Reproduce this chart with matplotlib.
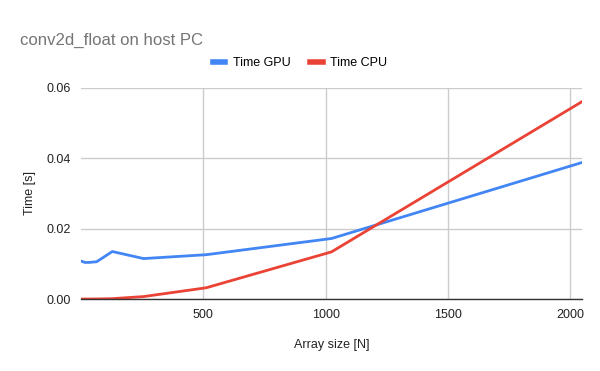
import matplotlib.pyplot as plt
from matplotlib.ticker import FormatStrFormatter

plt.rcParams['font.family'] = ['Liberation Sans', 'DejaVu Sans']

# dane
rozmiar = [4, 8, 16, 32, 64, 128, 256, 512, 1024, 2048]
czas_gpu = [0.0107, 0.0106, 0.0104, 0.0104, 0.0106, 0.0135, 0.0115, 0.0126, 0.0172, 0.0388]
czas_cpu = [0.0, 0.0, 0.0, 0.0, 0.00002, 0.0001, 0.0007, 0.0032, 0.0134, 0.0561]

fig = plt.figure(figsize=(6, 3.71), dpi=100)
ax = fig.add_axes([0.135, 0.194, 0.835, 0.569])

ax.plot(rozmiar, czas_gpu, color='#4285F4', lw=2, label='Time GPU')
ax.plot(rozmiar, czas_cpu, color='#EA4335', lw=2, label='Time CPU')

ax.set_xlim(0, 2048)
ax.set_ylim(0, 0.06)
ax.set_xticks([500, 1000, 1500, 2000])
ax.set_yticks([0, 0.02, 0.04, 0.06])
ax.yaxis.set_major_formatter(FormatStrFormatter('%.2f'))
ax.grid(True, color='#cccccc', lw=1)
ax.set_axisbelow(True)
ax.tick_params(length=0, labelsize=9, colors='#222222', pad=7)

for s in ['top', 'right', 'left']:
    ax.spines[s].set_visible(False)
ax.spines['bottom'].set_color('#333333')
ax.spines['bottom'].set_linewidth(1)

ax.set_xlabel('Array size [N]', fontsize=9, color='#222222', labelpad=13)
ax.set_ylabel('Time [s]', fontsize=9, color='#222222', labelpad=8)

fig.text(0.033, 0.88, 'conv2d_float on host PC', fontsize=12.1, color='#757575')

leg = fig.legend(loc='center', bbox_to_anchor=(0.5, 0.829), ncol=2, frameon=False,
                 fontsize=9, handlelength=1.0, handletextpad=0.6, columnspacing=1.6)
for h in leg.get_lines():
    h.set_linewidth(4)

fig.savefig('out.png', dpi=100)
